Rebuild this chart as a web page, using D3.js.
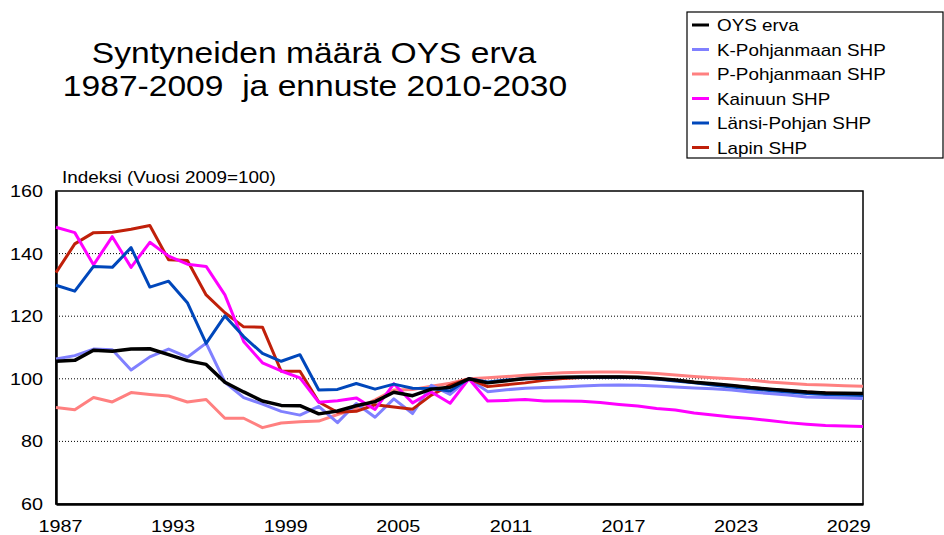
<!DOCTYPE html>
<html>
<head>
<meta charset="utf-8">
<script src="https://cdn.jsdelivr.net/npm/d3@7"></script>
<style>
  html, body { margin: 0; padding: 0; background: #fff; }
  svg { display: block; font-family: "Liberation Sans", Arial, sans-serif; }
  text { white-space: pre; }
</style>
</head>
<body>
<svg id="chart" width="944" height="535"></svg>
<script>
const years = d3.range(1987, 2031);
const xTickYears = [1987, 1993, 1999, 2005, 2011, 2017, 2023, 2029];
const yTicks = [60, 80, 100, 120, 140, 160];
const yGrid = [80, 100, 120, 140];

const seriesNames = ["OYS erva", "K-Pohjanmaan SHP", "P-Pohjanmaan SHP", "Kainuun SHP", "Länsi-Pohjan SHP", "Lapin SHP"];
const seriesColors = ["#000000", "#8080ff", "#ff8080", "#ff00ff", "#0047bb", "#c0200a"];

const oysErva = [105.6, 105.9, 109.1, 108.8, 109.5, 109.6, 107.7, 105.8, 104.6, 98.9, 95.8, 92.9, 91.5, 91.4, 88.8, 89.7, 91.4, 92.7, 95.7, 94.6, 96.7, 97.3, 100, 98.7, 99.4, 100.1, 100.3, 100.5, 100.6, 100.6, 100.6, 100.5, 100.1, 99.6, 98.9, 98.4, 97.9, 97.2, 96.7, 96.3, 95.8, 95.5, 95.4, 95.3];
const kPohjanmaa = [106.3, 107.4, 109.5, 109.3, 102.8, 107, 109.5, 106.9, 111.4, 98.9, 94, 91.9, 89.6, 88.4, 91.2, 86, 92.1, 87.7, 93.6, 88.9, 97.9, 95, 100, 95.9, 96.5, 97, 97.2, 97.4, 97.7, 97.9, 98, 97.9, 97.7, 97.4, 97.1, 96.8, 96.4, 95.8, 95.3, 94.8, 94.2, 94, 93.9, 93.7];
const pPohjanmaa = [90.8, 90.1, 94, 92.6, 95.6, 95, 94.5, 92.6, 93.4, 87.4, 87.4, 84.4, 85.9, 86.3, 86.5, 88.6, 90.4, 93.3, 96.4, 96.6, 97.6, 98.6, 100, 100.3, 100.7, 101.1, 101.6, 101.9, 102.1, 102.2, 102.2, 102, 101.7, 101.2, 100.7, 100.3, 100, 99.6, 99, 98.6, 98.2, 98, 97.8, 97.6];
const kainuu = [148.4, 146.7, 136.4, 145.4, 135.6, 143.6, 139.2, 136.6, 135.9, 126.8, 111.9, 105.1, 102.5, 100.3, 92.5, 93, 93.9, 90.2, 98.4, 92.3, 95.8, 92.2, 100, 92.9, 93.1, 93.4, 92.9, 92.9, 92.8, 92.4, 91.8, 91.3, 90.5, 90, 89.1, 88.4, 87.8, 87.3, 86.7, 86, 85.5, 85.1, 84.9, 84.8];
const lansiPohja = [129.9, 128, 135.9, 135.6, 141.9, 129.3, 131.2, 124.3, 111.3, 120.1, 113.5, 108.1, 105.6, 107.7, 96.4, 96.6, 98.5, 96.7, 98.3, 97, 96.9, 96.1, 100, 99, 99.6, 100, 100.2, 100.4, 100.5, 100.5, 100.5, 100.3, 99.9, 99.3, 98.7, 98, 97.4, 96.8, 96.3, 95.8, 95.3, 95, 94.8, 94.7];
const lappi = [133.9, 143.1, 146.7, 146.8, 147.8, 149, 138, 137.8, 126.8, 121.1, 116.6, 116.5, 102.4, 102.4, 92.6, 89.3, 89.6, 91.7, 91, 90.3, 94.8, 98, 100, 97.5, 98.1, 98.7, 99.5, 100.1, 100.4, 100.6, 100.6, 100.4, 100, 99.5, 98.9, 98.3, 97.8, 97.2, 96.7, 96.2, 95.8, 95.5, 95.3, 95.2];

const seriesValues = [oysErva, kPohjanmaa, pPohjanmaa, kainuu, lansiPohja, lappi];
const drawOrder = [2, 1, 5, 3, 4, 0];

const svg = d3.select("#chart");
const FONT = "'Liberation Sans', Arial, sans-serif";

const plot = { left: 56, right: 863, top: 191, bottom: 504 };
const x = d3.scaleLinear().domain([1987, 2030]).range([plot.left, plot.right]);
const y = d3.scaleLinear().domain([60, 160]).range([plot.bottom, plot.top]);

function stext(g, str, px, py, size, anchor, sx) {
  return g.append("text")
    .attr("transform", `translate(${px},${py}) scale(${sx},1)`)
    .attr("text-anchor", anchor)
    .attr("font-size", size)
    .attr("font-family", FONT)
    .attr("fill", "#000")
    .attr("xml:space", "preserve")
    .text(str);
}

// Title
stext(svg, "Syntyneiden määrä OYS erva", 314, 63, 30, "middle", 1.12);
stext(svg, "1987-2009  ja ennuste 2010-2030", 315, 96, 30, "middle", 1.12);

// Axis title
stext(svg, "Indeksi (Vuosi 2009=100)", 62, 183, 16, "start", 1.18);

// Grid lines
svg.append("g").selectAll("line").data(yGrid).join("line")
  .attr("x1", plot.left).attr("x2", plot.right)
  .attr("y1", d => y(d)).attr("y2", d => y(d))
  .attr("stroke", "#000").attr("stroke-width", 1)
  .attr("stroke-dasharray", "1,2");

// Frame
svg.append("rect")
  .attr("x", plot.left).attr("y", plot.top)
  .attr("width", plot.right - plot.left).attr("height", plot.bottom - plot.top)
  .attr("fill", "none").attr("stroke", "#000").attr("stroke-width", 1.5);

// Axes
const yAxis = d3.axisLeft(y).tickValues(yTicks).tickSize(0).tickPadding(0);
const gy = svg.append("g").attr("transform", `translate(${plot.left},0)`).call(yAxis);
gy.select(".domain").attr("stroke", "#000").attr("stroke-width", 2.5);
gy.selectAll("text").remove();
yTicks.forEach(v => {
  stext(gy, String(v), -13, y(v) + 6, 16.5, "end", 1.2);
});

const xAxis = d3.axisBottom(x).tickValues(xTickYears).tickSize(0).tickPadding(0);
const gx = svg.append("g").attr("transform", `translate(0,${plot.bottom})`).call(xAxis);
gx.select(".domain").attr("stroke", "#000").attr("stroke-width", 2.5);
gx.selectAll("text").remove();
xTickYears.forEach(v => {
  stext(gx, String(v), x(v) + 4.5, 27.5, 16.5, "middle", 1.2);
});

// Lines
const line = d3.line().x((d, i) => x(years[i])).y(d => y(d));
const gl = svg.append("g");
drawOrder.forEach(k => {
  gl.append("path")
    .datum(seriesValues[k])
    .attr("d", line)
    .attr("fill", "none")
    .attr("stroke", seriesColors[k])
    .attr("stroke-width", k === 0 ? 3.5 : 3)
    .attr("stroke-linejoin", "round");
});

// Legend
const lg = svg.append("g");
lg.append("rect")
  .attr("x", 687).attr("y", 12).attr("width", 256).attr("height", 146)
  .attr("fill", "#fff").attr("stroke", "#000").attr("stroke-width", 1.2);
seriesNames.forEach((name, i) => {
  const cy = 25 + i * 24.5;
  lg.append("line")
    .attr("x1", 692).attr("x2", 709).attr("y1", cy).attr("y2", cy)
    .attr("stroke", seriesColors[i]).attr("stroke-width", 3);
  stext(lg, name, 717, cy + 6, 16, "start", 1.18);
});
</script>
</body>
</html>
